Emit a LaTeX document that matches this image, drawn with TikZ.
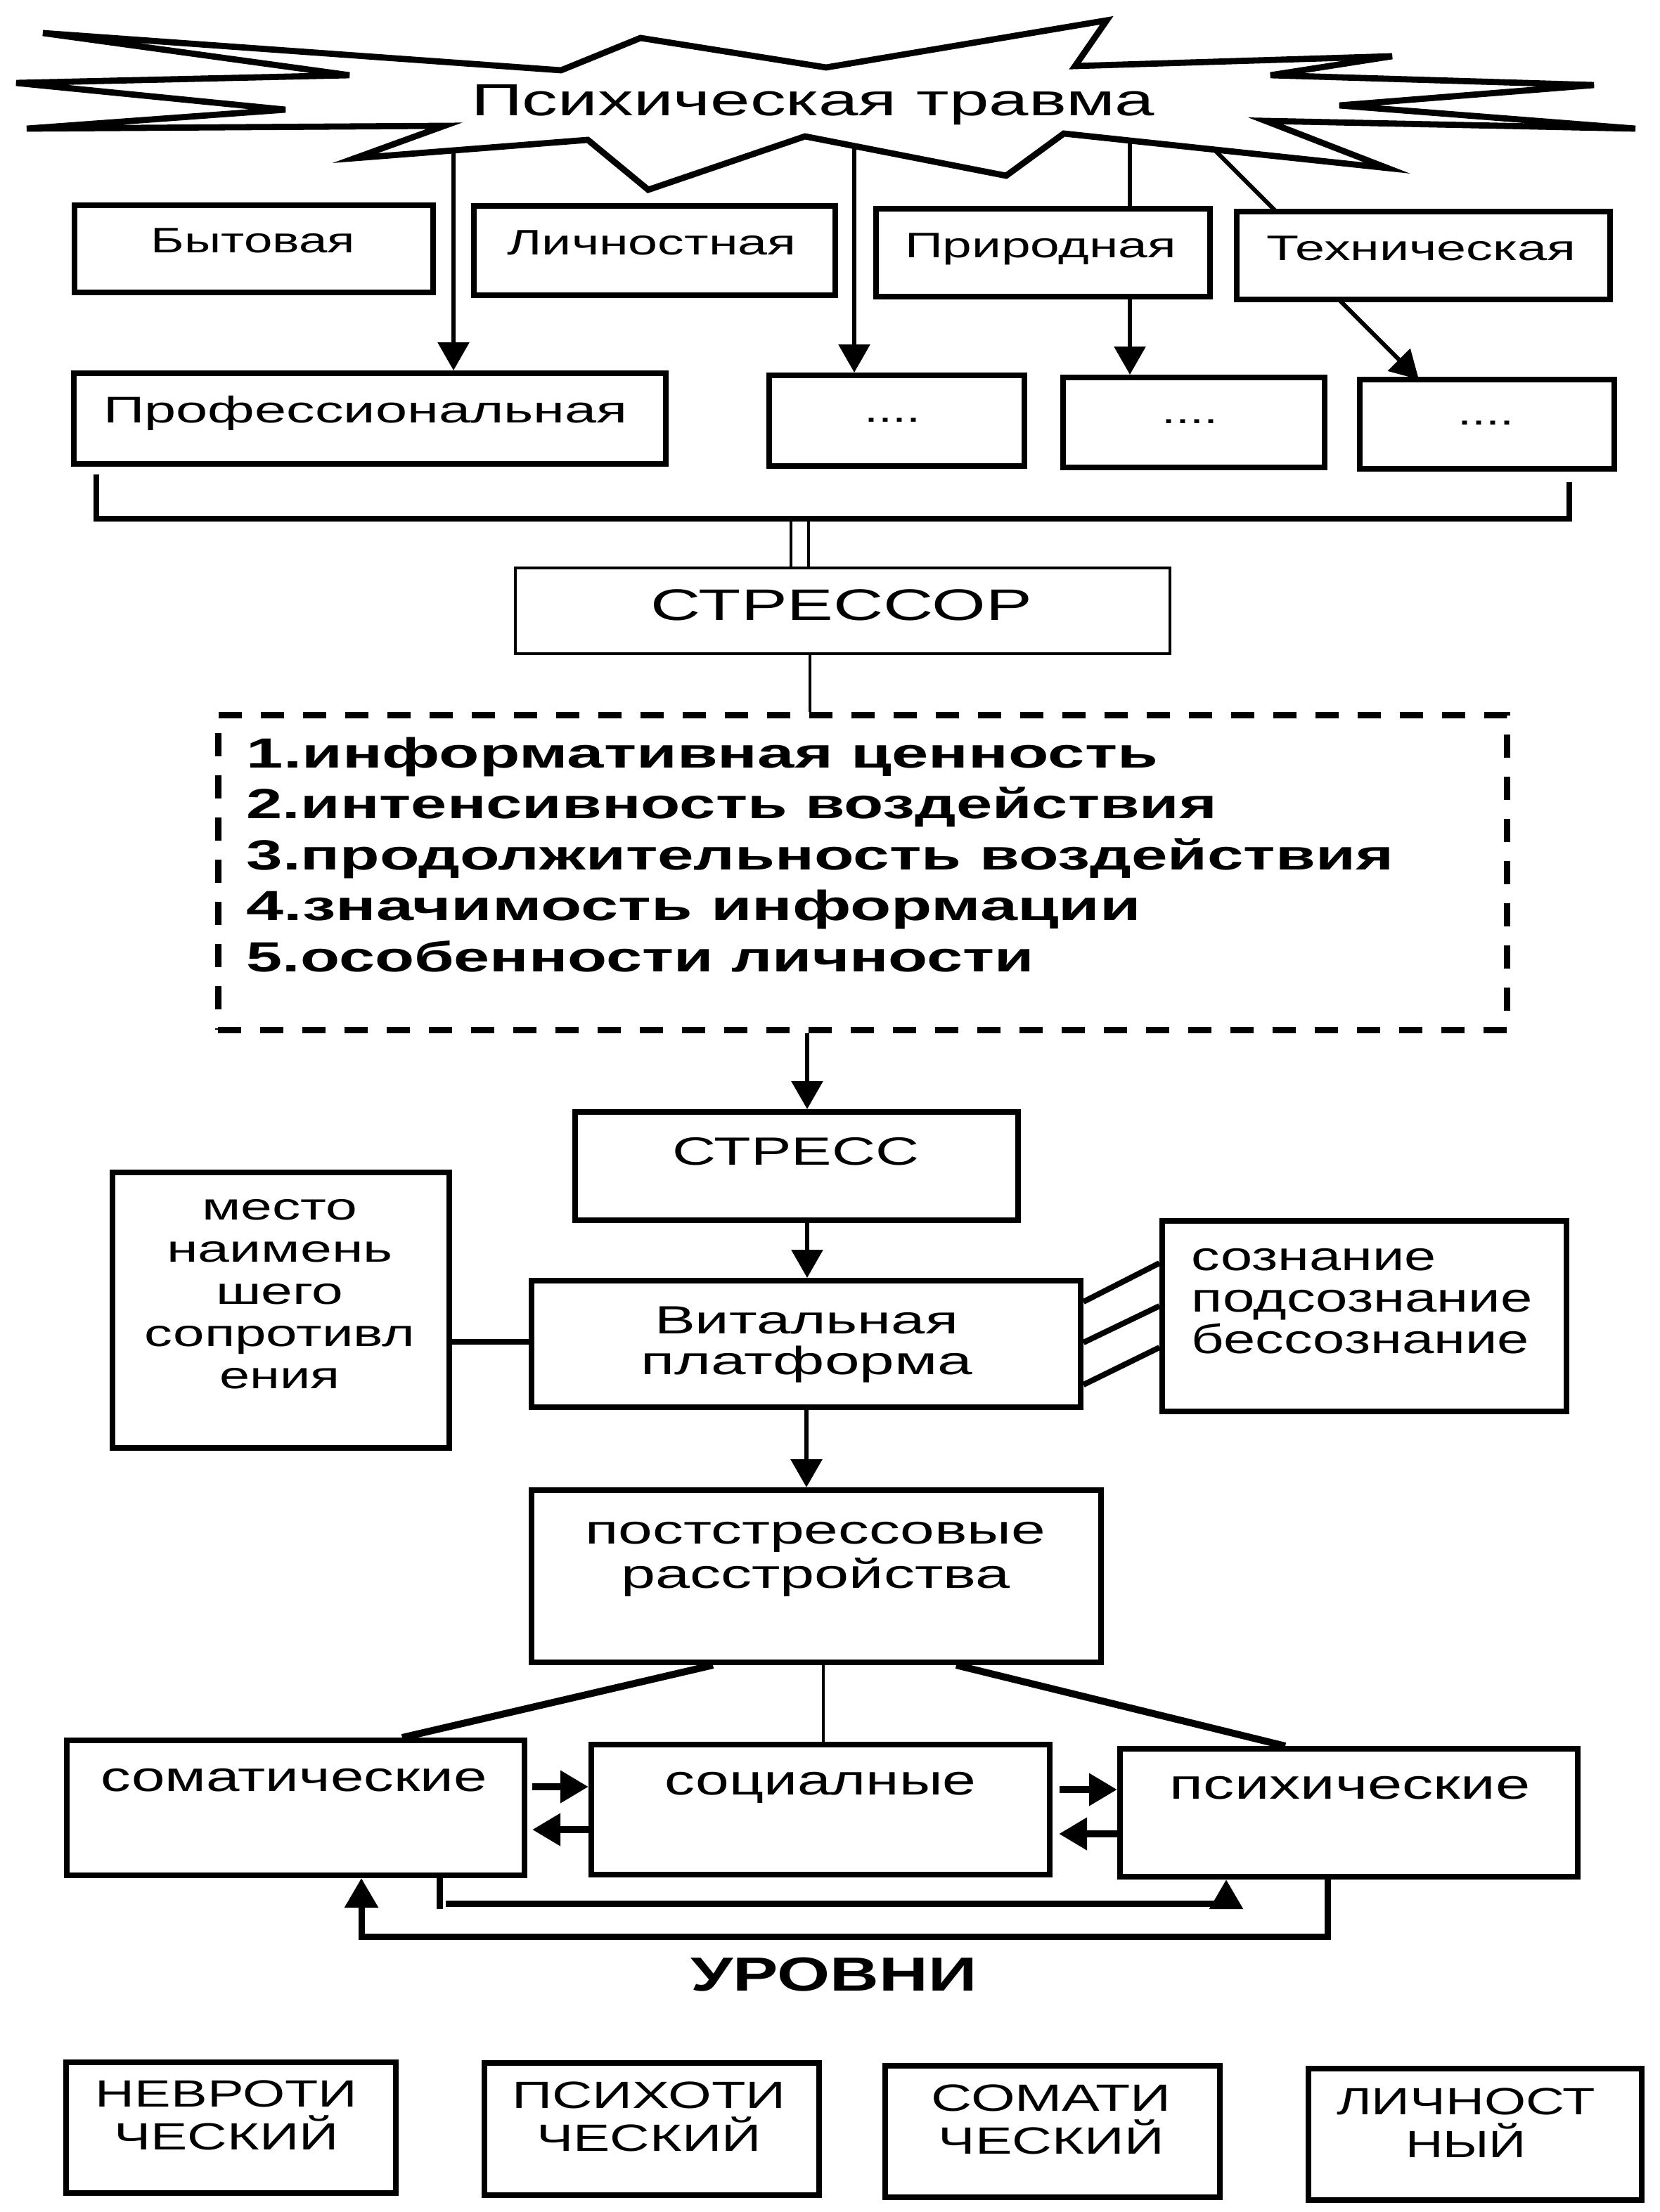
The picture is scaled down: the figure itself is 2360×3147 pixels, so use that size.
\documentclass[tikz,border=0pt]{standalone}
\usepackage{fontspec}
\setmainfont{Liberation Sans}
\usepackage{graphicx}
\usetikzlibrary{arrows.meta,fit}
\newdimen\pxu \pxu=0.25pt
\newcommand\sw[2]{\resizebox{#1\pxu}{\height}{#2}}
\newcommand\fsz[2]{\fontsize{#1}{#2}\selectfont}
\begin{document}
\begin{tikzpicture}[x=0.25pt,y=-0.25pt,
  box/.style={draw,line width=2pt,inner sep=0pt},
  thinbox/.style={draw,line width=1pt,inner sep=0pt},
  txt/.style={inner sep=0pt,anchor=base},
  shaft/.style={line width=1.5pt},
  arr/.style={line width=1.5pt,-{Triangle[width=11pt,length=10pt]}},
  harr/.style={line width=2.5pt,-{Triangle[width=11pt,length=10pt]}},
  farr/.style={line width=2.25pt,-{Triangle[width=11.5pt,length=10.5pt]}},
  link/.style={line width=2pt},
  thinlink/.style={line width=1pt}]
\fill[white] (0,0) rectangle (2360,3147);
\useasboundingbox (0,0) rectangle (2360,3147);

% star
\draw[line width=2.2pt,line join=miter] (61,47) -- (497,107) -- (23,118) -- (406,156) -- (38,183) -- (632,179) -- (505,225) -- (836,199) -- (922,270) -- (1145,194) -- (1431,250) -- (1513,190) -- (1973,239) -- (1800,172) -- (2326,183) -- (1905,150) -- (2267,121) -- (1807,107) -- (1980,80) -- (1529,94) -- (1574,29) -- (1175,96) -- (911,54) -- (798,100) -- cycle;
\node[txt,font=\fsz{16pt}{19pt}] (title) at (1156,165) {\sw{972}{Психическая травма}};
\coordinate (s1) at (645,214);
\coordinate (s2) at (1215,208);
\coordinate (s3) at (1607,200);
\coordinate (s4) at (1729,215);
\coordinate (t4) at (1815,301);
\coordinate (t5) at (1904,426);
\coordinate (t6) at (2018,540);

% category boxes
\node[box,fit={(106,292) (616,416)}] (byt) {};
\node[txt,font=\fsz{12.6pt}{15pt}] (bytt) at (360,359) {\sw{290}{Бытовая}};
\node[box,fit={(674,293) (1188,420)}] (lich) {};
\node[txt,font=\fsz{12.6pt}{15pt}] (licht) at (927,362) {\sw{411}{Личностная}};
\node[box,fit={(1246,297) (1721,422)}] (prir) {};
\node[txt,font=\fsz{12.6pt}{15pt}] (prirt) at (1480,366) {\sw{386}{Природная}};
\node[box,fit={(1759,301) (2290,426)}] (tech) {};
\node[txt,font=\fsz{12.6pt}{15pt}] (techt) at (2021,370) {\sw{440}{Техническая}};
\node[box,fit={(105,531) (947,660)}] (prof) {};
\node[txt,font=\fsz{13.2pt}{15pt}] (proft) at (520,601) {\sw{745}{Профессиональная}};
\node[box,fit={(1094,534) (1457,663)}] (d1) {};
\node[txt,font=\fsz{13pt}{15pt}] (d1t) at (1269,600) {\sw{80}{....}};
\node[box,fit={(1512,537) (1884,665)}] (d2) {};
\node[txt,font=\fsz{13pt}{15pt}] (d2t) at (1692,602) {\sw{80}{....}};
\node[box,fit={(1934,540) (2296,667)}] (d3) {};
\node[txt,font=\fsz{13pt}{15pt}] (d3t) at (2113,604) {\sw{80}{....}};

\draw[arr] (s1) -- (s1|-prof.north);
\draw[arr] (s2) -- (s2|-d1.north);
\draw[shaft] (s3) -- (s3|-prir.north);
\draw[arr] (s3|-prir.south) -- (s3|-d2.north);
\draw[shaft] (s4) -- (t4);
\draw[arr] (t5) -- (t6);

% bracket
\coordinate (bl) at (137,675);
\coordinate (br) at (2232,686);
\draw[link] (bl) -- (137,738) -- (2232,738) -- (br);

% stressor
\node[thinbox,fit={(733,808) (1664,930)}] (ssr) {};
\node[txt,font=\fsz{15.7pt}{18pt}] (ssrt) at (1197,882) {\sw{542}{СТРЕССОР}};
\coordinate (dbl1) at (1125,742);
\coordinate (dbl2) at (1150,742);
\draw[thinlink] (dbl1) -- (dbl1|-ssr.north);
\draw[thinlink] (dbl2) -- (dbl2|-ssr.north);

% dashed factors box
\node[draw,line width=2.25pt,dash pattern=on 8.25pt off 6.75pt,inner sep=0pt,fit={(310,1017) (2143,1465)}] (dash) {};
\coordinate (m1) at (1152,0);
\draw[thinlink] (m1|-ssr.south) -- (m1|-dash.north);
\node[txt,anchor=base west,align=left,font=\bfseries\fsz{15pt}{18.1pt}] (list) at (350,1382)
 {\sw{1296}{1.информативная ценность}\\
  \sw{1380}{2.интенсивность воздействия}\\
  \sw{1631}{3.продолжительность воздействия}\\
  \sw{1272}{4.значимость информации}\\
  \sw{1120}{5.особенности личности}};

% stress
\coordinate (m2) at (1148,0);
\node[box,fit={(818,1582) (1448,1736)}] (stress) {};
\node[txt,font=\fsz{14pt}{16pt}] (stresst) at (1132,1657) {\sw{351}{СТРЕСС}};
\draw[arr] (m2|-dash.south) -- (m2|-stress.north);

% vital platform
\node[box,fit={(756,1822) (1537,2002)}] (vit) {};
\node[txt,align=center,font=\fsz{14pt}{14.5pt}] (vitt) at (1147,1955) {\sw{432}{Витальная}\\\sw{472}{платформа}};
\draw[arr] (m2|-stress.south) -- (m2|-vit.north);

\node[box,fit={(160,1668) (639,2060)}] (mesto) {};
\node[txt,align=center,font=\fsz{13.5pt}{15pt}] (mestot) at (398,1975)
 {\sw{221}{место}\\\sw{321}{наимень}\\\sw{181}{шего}\\\sw{384}{сопротивл}\\\sw{171}{ения}};
\draw[link] (mesto.east|-0,1909) -- (vit.west|-0,1909);

\node[box,fit={(1653,1737) (2228,2008)}] (soz) {};
\node[txt,anchor=base west,align=left,font=\fsz{14.5pt}{14.75pt}] (sozt) at (1694,1925)
 {\sw{348}{сознание}\\\sw{485}{подсознание}\\\sw{480}{бессознание}};
\draw[link] (vit.east|-0,1852) -- (soz.west|-0,1797);
\draw[link] (vit.east|-0,1910) -- (soz.west|-0,1858);
\draw[link] (vit.east|-0,1970) -- (soz.west|-0,1917);

% post-stress
\coordinate (m3) at (1147,0);
\node[box,fit={(756,2120) (1566,2365)}] (post) {};
\node[txt,align=center,font=\fsz{14.5pt}{15.75pt}] (postt) at (1160,2259) {\sw{655}{постстрессовые}\\\sw{553}{расстройства}};
\draw[arr] (m3|-vit.south) -- (m3|-post.north);

% three kinds
\node[box,fit={(95,2476) (746,2668)}] (som) {};
\node[txt,font=\fsz{15pt}{17pt}] (somt) at (418,2548) {\sw{549}{соматические}};
\node[box,fit={(841,2482) (1493,2667)}] (soc) {};
\node[txt,font=\fsz{15pt}{17pt}] (soct) at (1167,2553) {\sw{443}{социалные}};
\node[box,fit={(1593,2488) (2244,2670)}] (psy) {};
\node[txt,font=\fsz{15pt}{17pt}] (psyt) at (1920,2559) {\sw{512}{психические}};

\draw[line width=2.5pt] (1014,0|-post.south) -- (572,0|-som.north);
\draw[thinlink] (1171,0|-post.south) -- (1171,0|-soc.north);
\draw[line width=2.5pt] (1360,0|-post.south) -- (1828,0|-psy.north);

\draw[harr,shorten <=7\pxu] (som.east|-0,2542) -- (soc.west|-0,2542);
\draw[harr,shorten >=7\pxu] (soc.west|-0,2603) -- (som.east|-0,2603);
\draw[harr,shorten <=10\pxu] (soc.east|-0,2546) -- (psy.west|-0,2546);
\draw[harr,shorten >=9\pxu] (psy.west|-0,2609) -- (soc.east|-0,2609);

\draw[line width=2.25pt] (625,0|-som.south) -- (625,2716);
\draw[farr] (634,2708) -- (1744,2708) -- (1744,0|-psy.south);
\draw[farr] (1888,0|-psy.south) -- (1888,2755) -- (514,2755) -- (514,0|-som.south);

\node[txt,font=\bfseries\fsz{17pt}{20pt}] (urov) at (1186,2832) {\sw{407}{УРОВНИ}};

% levels
\node[box,fit={(94,2934) (563,3120)}] (lv1) {};
\node[txt,align=center,font=\fsz{13.5pt}{15.25pt}] (lv1t) at (322,3058) {\sw{372}{НЕВРОТИ}\\\sw{319}{ЧЕСКИЙ}};
\node[box,fit={(689,2935) (1165,3123)}] (lv2) {};
\node[txt,align=center,font=\fsz{13.5pt}{15.25pt}] (lv2t) at (923,3060) {\sw{389}{ПСИХОТИ}\\\sw{319}{ЧЕСКИЙ}};
\node[box,fit={(1259,2939) (1735,3126)}] (lv3) {};
\node[txt,align=center,font=\fsz{13.5pt}{15.25pt}] (lv3t) at (1495,3064) {\sw{341}{СОМАТИ}\\\sw{321}{ЧЕСКИЙ}};
\node[box,fit={(1861,2943) (2335,3130)}] (lv4) {};
\node[txt,align=center,font=\fsz{13.5pt}{15.25pt}] (lv4t) at (2085,3069) {\sw{368}{ЛИЧНОСТ}\\\sw{172}{НЫЙ}};
\end{tikzpicture}
\end{document}
